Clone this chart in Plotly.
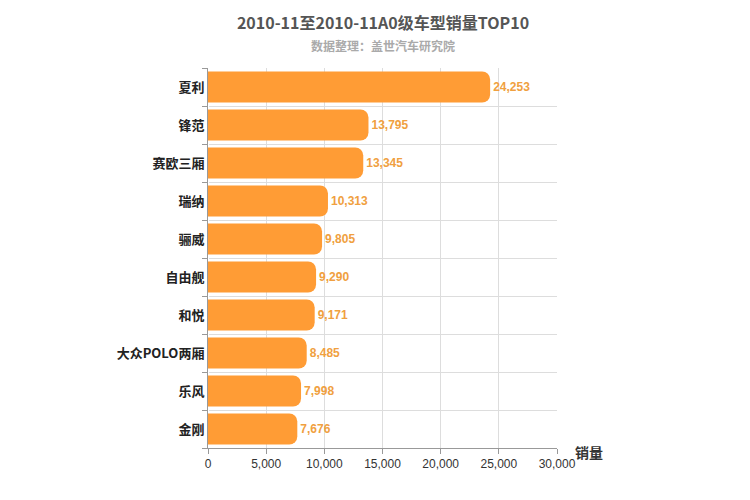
import plotly.graph_objects as go

models = ["夏利", "锋范", "赛欧三厢", "瑞纳", "骊威", "自由舰", "和悦", "大众POLO两厢", "乐风", "金刚"]
sales = [24253, 13795, 13345, 10313, 9805, 9290, 9171, 8485, 7998, 7676]
x_ticks = [0, 5000, 10000, 15000, 20000, 25000, 30000]

FONT = "Noto Sans CJK SC"

fig = go.Figure(go.Bar(
    x=sales, y=models, orientation="h",
    marker=dict(color="#ff9c35", cornerradius=8, line=dict(width=0)),
    width=0.82,
    text=[f"<b>{v:,}</b>" for v in sales], textposition="outside",
    textfont=dict(color="#f0a040", size=12, family="Liberation Sans"),
    cliponaxis=False,
))

fig.update_layout(
    width=750, height=500,
    margin=dict(l=200, r=201, t=60, b=60, autoexpand=False),
    plot_bgcolor="white", paper_bgcolor="white",
    showlegend=False,
    font=dict(family=FONT, size=12, color="#333"),
    title=dict(text="<b>2010-11至2010-11A0级车型销量TOP10</b>", x=0.5, xanchor="center",
               y=0.97, yanchor="middle", font=dict(size=16, color="#555"),
               automargin=False),
    annotations=[
        dict(text="<b>数据整理：盖世汽车研究院</b>", x=0.5, xref="paper", xanchor="center",
             y=1.058, yref="paper", yanchor="middle", showarrow=False,
             font=dict(size=12, color="#aaa")),
        dict(text="<b>销量</b>", x=1.045, xref="paper", xanchor="left",
             y=-0.01, yref="paper", yanchor="middle", showarrow=False,
             font=dict(size=14, color="#333")),
    ],
)

fig.update_xaxes(range=[0, 30000], tickvals=x_ticks, tickformat=",",
                 showgrid=True, gridcolor="#ddd", showline=True, linecolor="#999",
                 ticks="outside", tickcolor="#999", ticklen=5, automargin=False,
                 tickfont=dict(size=12, color="#333", family="Liberation Sans"))
fig.update_yaxes(autorange="reversed", tickson="boundaries", showgrid=True,
                 gridcolor="#ddd", showline=True, linecolor="#999",
                 ticks="outside", tickcolor="#999", ticklen=5, automargin=False,
                 tickfont=dict(size=13, color="#222"),
                 ticktext=[f"<b>{m}</b>" for m in models], tickvals=models)

fig.write_html("out.html")
